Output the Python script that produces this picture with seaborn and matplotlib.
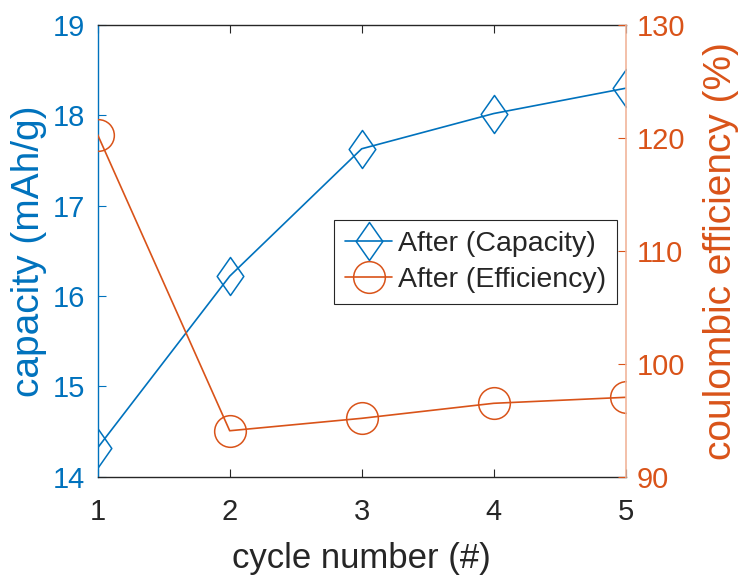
import matplotlib
matplotlib.use("Agg")
import matplotlib.pyplot as plt
from matplotlib.path import Path
import pandas as pd
import seaborn as sns

# Cycling data
cycles = [1, 2, 3, 4, 5]
capacity = [14.32, 16.22, 17.63, 18.02, 18.30]        # mAh/g
efficiency = [120.27, 94.07, 95.17, 96.50, 97.03]     # %
series_labels = ["After (Capacity)", "After (Efficiency)"]
x_ticks = [1, 2, 3, 4, 5]
cap_ticks = [14, 15, 16, 17, 18, 19]
eff_ticks = [90, 100, 110, 120, 130]

BLUE = "#0072BD"
ORANGE = "#D95319"
ORANGE_LIGHT = "#F1B59B"
AXIS_GRAY = "#262626"

sns.set_theme(style="white")
plt.rcParams["font.family"] = ["Liberation Sans", "DejaVu Sans"]

# Tall, narrow diamond marker
diamond = Path(
    [(0, 1), (0.7, 0), (0, -1), (-0.7, 0), (0, 1)],
    [Path.MOVETO, Path.LINETO, Path.LINETO, Path.LINETO, Path.CLOSEPOLY],
)

df = pd.DataFrame({"cycle": cycles, "capacity": capacity, "efficiency": efficiency})

fig = plt.figure(figsize=(7.4, 5.77), dpi=100)
ax = fig.add_axes([97.7 / 740, 1 - 476.7 / 577, 528 / 740, 451.7 / 577])
ax2 = ax.twinx()

sns.lineplot(data=df, x="cycle", y="capacity", ax=ax, color=BLUE, lw=1.2,
             marker=diamond, markersize=27.4, markerfacecolor="none",
             markeredgecolor=BLUE, markeredgewidth=1.1, legend=False)
sns.lineplot(data=df, x="cycle", y="efficiency", ax=ax2, color=ORANGE, lw=1.2,
             marker="o", markersize=22.8, markerfacecolor="none",
             markeredgecolor=ORANGE, markeredgewidth=1.1, legend=False)

ax.set_xlim(1, 5)
ax.set_ylim(14, 19)
ax2.set_ylim(90, 130)
ax.set_xticks(x_ticks)
ax.set_yticks(cap_ticks)
ax2.set_yticks(eff_ticks)

ax.tick_params(axis="x", direction="in", bottom=True, top=True, length=6,
               width=0.8, colors=AXIS_GRAY, labelsize=21, pad=15)
ax.tick_params(axis="y", direction="in", left=True, right=False, length=6,
               width=0.8, colors=BLUE, labelsize=21, pad=9)
ax2.tick_params(axis="y", direction="in", right=True, left=False, length=6,
                width=0.8, colors=ORANGE, labelsize=21, pad=8)

for side in ("top", "bottom"):
    ax.spines[side].set_color(AXIS_GRAY)
    ax.spines[side].set_linewidth(1.0)
ax.spines["left"].set_color(BLUE)
ax.spines["left"].set_linewidth(1.0)
ax.spines["right"].set_visible(False)
for side in ("top", "bottom", "left"):
    ax2.spines[side].set_visible(False)
ax2.spines["right"].set_color(ORANGE_LIGHT)
ax2.spines["right"].set_linewidth(1.2)

ax.set_xlabel("cycle number (#)", fontsize=25, color=AXIS_GRAY, labelpad=12)
ax.set_ylabel("capacity (mAh/g)", fontsize=28, color=BLUE, labelpad=4)
ax2.set_ylabel("coulombic efficiency (%)", fontsize=28, color=ORANGE, labelpad=13)

handles = [ax.lines[0], ax2.lines[0]]
leg = ax2.legend(handles, series_labels, loc="lower right",
                 bbox_to_anchor=(0.983, 0.382), borderaxespad=0,
                 fontsize=20.5, frameon=True, fancybox=False,
                 edgecolor=AXIS_GRAY, framealpha=1, handlelength=1.65,
                 handletextpad=0.2, borderpad=0.38, labelspacing=0.38)
leg.get_frame().set_linewidth(0.8)

fig.savefig("out.png", dpi=100)
